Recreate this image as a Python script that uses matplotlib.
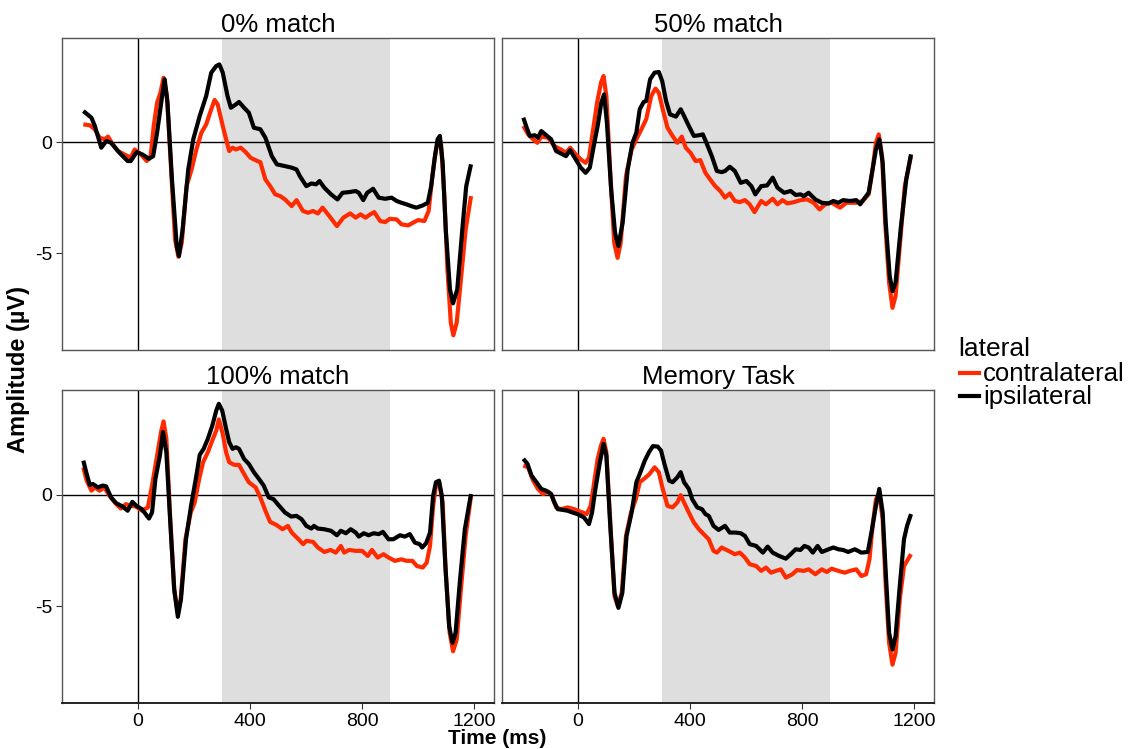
import matplotlib
matplotlib.use("Agg")
import matplotlib.pyplot as plt
from matplotlib.lines import Line2D

plt.rcParams['font.family'] = ['Liberation Sans', 'DejaVu Sans']

panel_titles = ["0% match", "50% match", "100% match", "Memory Task"]
series_names = ["contralateral", "ipsilateral"]
series_colors = ["#FF2A00", "#000000"]
shade_start, shade_end = 300, 900
x_ticks = [0, 400, 800, 1200]
y_ticks = [0, -5]

# ---- 0% match ----
t_p1_ipsi = [-194,-165,-153,-130,-112,-95,-65,-36,-25,-4,16,40,55,69,87,96,106,122,139,147,160,180,198,221,244,262,280,291,303,320,332,350,361,379,396,414,437,455,478,496,525,549,566,578,601,619,636,648,665,689,712,730,753,777,788,804,818,839,859,882,905,923,940,958,975,993,1016,1034,1046,1058,1069,1077,1087,1098,1113,1124,1139,1157,1171,1188]
v_p1_ipsi = [1.41,1.11,0.74,-0.24,0.06,-0.02,-0.47,-0.84,-0.84,-0.44,-0.54,-0.74,-0.62,0.44,2.09,2.84,1.79,-1.67,-4.67,-5.12,-3.92,-1.22,0.14,1.19,2.09,3.14,3.44,3.51,3.14,2.09,1.56,1.71,1.82,1.56,1.34,0.66,0.59,0.21,-0.62,-0.99,-1.07,-1.14,-1.22,-1.52,-1.97,-1.85,-1.89,-1.74,-2.04,-2.34,-2.57,-2.27,-2.24,-2.19,-2.27,-2.60,-2.27,-2.09,-2.49,-2.54,-2.49,-2.64,-2.72,-2.79,-2.87,-2.94,-2.84,-2.72,-1.97,-0.77,0.14,0.29,-0.92,-3.92,-6.62,-7.25,-6.62,-3.92,-1.97,-0.99]
t_p1_contra = [-194,-171,-153,-136,-118,-106,-89,-71,-48,-25,-11,11,32,46,57,69,81,92,104,119,133,145,157,174,192,209,227,244,262,274,285,303,315,326,338,350,367,385,402,426,437,455,472,490,508,525,549,566,589,607,625,642,659,683,710,733,757,777,794,812,829,843,864,882,899,923,940,964,981,999,1022,1037,1049,1061,1073,1081,1093,1104,1116,1125,1137,1151,1169,1188]
v_p1_contra = [0.81,0.77,0.59,0.21,0.14,0.26,-0.09,-0.39,-0.54,-0.69,-0.32,-0.54,-0.84,-0.62,0.74,1.79,2.24,2.91,2.09,-1.22,-4.37,-5.15,-4.52,-1.97,-1.22,-0.32,0.44,0.81,1.49,1.91,1.71,0.74,0.14,-0.39,-0.24,-0.32,-0.24,-0.44,-0.69,-0.84,-0.89,-1.67,-1.97,-2.34,-2.42,-2.57,-2.87,-2.60,-3.09,-3.17,-3.09,-3.20,-2.94,-3.32,-3.77,-3.39,-3.20,-3.39,-3.24,-3.39,-3.24,-3.14,-3.54,-3.59,-3.44,-3.47,-3.69,-3.74,-3.62,-3.50,-3.54,-3.09,-1.67,-0.47,0.21,-0.02,-2.42,-5.72,-8.12,-8.69,-8.12,-6.32,-3.92,-2.42]

# ---- 50% match ----
t_p2_ipsi = [-194,-182,-171,-153,-142,-130,-112,-95,-77,-54,-42,-27,-7,11,28,43,57,71,84,94,104,119,133,145,160,178,195,209,221,235,244,258,274,289,301,315,329,350,367,379,396,414,432,446,461,478,496,513,525,542,560,581,601,619,633,654,675,695,712,736,759,777,794,806,823,847,870,894,911,929,946,970,993,1007,1019,1037,1051,1063,1075,1087,1098,1112,1122,1133,1151,1171,1188]
v_p2_ipsi = [1.11,0.66,0.29,0.32,0.21,0.51,0.32,0.14,-0.39,-0.54,-0.62,-0.35,-0.77,-1.14,-1.37,-1.14,-0.17,0.74,1.79,2.16,0.89,-2.12,-4.07,-4.67,-3.62,-1.22,-0.02,0.44,1.49,1.82,1.86,2.84,3.14,3.17,2.76,1.86,1.26,1.16,1.49,1.19,0.74,0.29,0.32,0.36,-0.09,-0.62,-1.29,-1.34,-1.29,-1.10,-1.29,-1.82,-1.74,-1.97,-2.34,-1.97,-1.94,-1.59,-2.04,-2.27,-2.19,-2.37,-2.34,-2.42,-2.27,-2.57,-2.72,-2.75,-2.64,-2.72,-2.60,-2.64,-2.60,-2.79,-2.57,-2.27,-1.22,-0.32,0.14,-0.92,-3.62,-6.02,-6.70,-6.32,-3.92,-1.67,-0.54]
t_p2_contra = [-194,-177,-159,-144,-130,-106,-83,-60,-42,-27,-7,11,28,40,55,69,83,92,102,116,130,142,153,172,192,209,227,244,262,277,289,303,320,338,355,371,385,402,420,437,455,472,490,508,525,542,560,578,596,613,630,654,671,695,712,730,747,771,794,818,841,862,882,905,935,958,993,1016,1037,1051,1063,1073,1085,1096,1110,1122,1133,1149,1166,1188]
v_p2_contra = [0.74,0.36,0.14,-0.02,0.26,0.21,-0.17,-0.32,-0.47,-0.24,-0.54,-0.77,-0.92,-0.69,0.59,1.79,2.69,2.99,2.09,-1.37,-4.52,-5.20,-4.52,-1.52,-0.32,0.14,0.59,1.04,2.09,2.42,2.24,1.49,0.66,0.29,-0.02,0.26,-0.24,-0.47,-0.84,-0.80,-1.37,-1.67,-1.97,-2.19,-2.49,-2.30,-2.64,-2.69,-2.60,-2.79,-3.14,-2.64,-2.79,-2.54,-2.79,-2.60,-2.75,-2.69,-2.60,-2.57,-2.72,-3.02,-2.79,-2.72,-2.94,-2.72,-2.72,-2.64,-2.34,-1.22,-0.02,0.36,-0.62,-3.62,-6.32,-7.45,-6.92,-4.52,-1.97,-0.62]

# ---- 100% match ----
t_p3_ipsi = [-194,-182,-171,-160,-142,-125,-113,-95,-77,-54,-36,-19,-5,15,40,51,63,79,90,102,116,130,143,154,172,190,209,221,235,250,266,280,289,301,315,326,338,350,361,379,396,414,432,449,467,484,502,525,547,566,584,601,619,628,642,665,689,710,724,742,759,777,788,806,823,841,859,874,894,911,935,952,970,988,1005,1014,1028,1042,1053,1063,1074,1084,1096,1110,1122,1133,1149,1166,1188]
v_p3_ipsi = [1.53,0.93,0.44,0.48,0.33,0.41,0.38,-0.12,-0.38,-0.53,-0.72,-0.32,-0.50,-0.65,-1.07,-0.80,0.71,1.76,2.81,1.91,-1.25,-4.25,-5.48,-4.70,-2.00,-0.50,0.86,1.79,2.06,2.51,3.11,3.78,4.08,3.78,2.96,2.36,2.06,2.13,2.06,1.61,1.38,1.01,0.71,0.41,-0.12,-0.20,-0.47,-0.80,-0.98,-0.95,-1.10,-1.40,-1.52,-1.40,-1.52,-1.55,-1.62,-1.82,-1.62,-1.73,-1.55,-1.70,-1.88,-1.73,-1.82,-1.73,-1.77,-1.67,-2.00,-2.00,-1.82,-1.88,-1.77,-2.15,-2.22,-2.37,-2.18,-1.70,-0.05,0.56,0.63,-0.05,-3.05,-5.90,-6.65,-6.20,-3.80,-1.55,0.03]
t_p3_contra = [-194,-182,-165,-153,-136,-119,-101,-77,-60,-42,-25,-7,15,36,51,69,83,92,102,116,130,142,153,170,189,203,219,233,250,268,280,289,303,315,326,344,361,379,396,420,437,455,472,496,516,535,549,573,590,601,625,642,665,687,706,724,736,753,777,800,820,835,855,876,894,917,940,958,979,995,1016,1030,1042,1053,1063,1074,1087,1098,1112,1124,1137,1151,1169,1188]
v_p3_contra = [1.23,0.63,0.18,0.33,0.18,0.33,-0.05,-0.42,-0.62,-0.42,-0.50,-0.53,-0.72,-0.57,0.41,1.76,2.81,3.29,2.51,-1.10,-4.25,-5.30,-4.70,-2.00,-0.80,-0.35,0.71,1.46,1.91,2.51,2.88,3.38,2.73,1.91,1.46,1.34,1.34,0.93,0.56,0.33,-0.12,-0.72,-1.22,-1.37,-1.55,-1.40,-1.70,-2.00,-2.22,-2.07,-2.12,-2.37,-2.57,-2.48,-2.60,-2.30,-2.60,-2.48,-2.52,-2.52,-2.75,-2.48,-2.82,-2.67,-2.82,-2.97,-2.90,-2.97,-2.97,-3.20,-3.27,-3.05,-2.30,-0.50,0.41,0.56,-0.35,-3.50,-6.20,-7.03,-6.50,-4.40,-1.85,-0.05]

# ---- Memory Task ----
t_p4_ipsi = [-194,-179,-165,-147,-130,-113,-95,-83,-71,-54,-36,-19,-1,22,40,51,63,79,92,102,116,131,145,159,174,192,209,221,239,254,268,285,297,309,326,338,355,367,379,396,408,426,443,455,467,484,502,525,542,563,581,596,613,636,660,677,695,718,742,759,777,794,808,823,838,855,870,888,911,929,946,964,988,1011,1034,1049,1063,1075,1087,1098,1110,1122,1133,1148,1163,1174,1188]
v_p4_ipsi = [1.61,1.38,0.86,0.56,0.26,0.18,0.03,-0.35,-0.65,-0.68,-0.72,-0.80,-0.87,-1.02,-1.32,-0.80,0.26,1.46,2.28,1.76,-1.40,-4.40,-5.08,-4.40,-1.85,-0.80,0.56,0.93,1.53,1.91,2.18,2.16,1.98,1.38,0.63,0.56,0.78,1.01,0.56,0.26,-0.20,-0.57,-0.65,-0.87,-0.95,-1.40,-1.58,-1.40,-1.70,-1.70,-1.73,-1.85,-2.22,-2.30,-2.60,-2.33,-2.60,-2.75,-2.87,-2.67,-2.45,-2.48,-2.30,-2.37,-2.60,-2.30,-2.57,-2.48,-2.37,-2.45,-2.48,-2.57,-2.45,-2.60,-2.57,-1.55,-0.50,0.26,-0.80,-3.50,-6.20,-6.95,-6.35,-4.10,-2.00,-1.40,-0.87]
t_p4_contra = [-194,-177,-159,-142,-124,-106,-95,-77,-60,-36,-13,11,32,46,57,71,83,92,102,116,131,143,157,172,190,207,221,239,256,274,289,303,320,338,355,367,379,396,414,432,449,467,484,496,513,537,560,578,596,613,636,654,671,689,706,724,742,765,782,806,823,847,870,888,905,929,952,970,993,1011,1028,1040,1051,1063,1075,1087,1098,1110,1122,1133,1148,1163,1174,1188]
v_p4_contra = [1.31,1.23,0.63,0.26,0.03,0.14,0.03,-0.57,-0.65,-0.57,-0.65,-0.77,-0.87,-0.50,0.41,1.61,2.21,2.51,1.91,-1.25,-4.55,-5.00,-4.40,-1.85,-0.80,-0.20,0.56,0.74,0.93,1.23,1.01,0.26,-0.50,-0.57,-0.35,-0.02,-0.35,-0.80,-1.25,-1.55,-1.77,-2.00,-2.52,-2.60,-2.37,-2.52,-2.67,-2.60,-2.82,-3.12,-3.20,-3.42,-3.27,-3.50,-3.42,-3.35,-3.72,-3.57,-3.38,-3.42,-3.35,-3.57,-3.35,-3.47,-3.32,-3.42,-3.50,-3.42,-3.35,-3.65,-3.57,-2.90,-1.40,-0.20,0.03,-1.10,-4.10,-6.65,-7.63,-7.10,-4.70,-3.20,-2.97,-2.67]

panel_data = [
    [(t_p1_contra, v_p1_contra), (t_p1_ipsi, v_p1_ipsi)],
    [(t_p2_contra, v_p2_contra), (t_p2_ipsi, v_p2_ipsi)],
    [(t_p3_contra, v_p3_contra), (t_p3_ipsi, v_p3_ipsi)],
    [(t_p4_contra, v_p4_contra), (t_p4_ipsi, v_p4_ipsi)],
]

W, H = 1134, 749
fig = plt.figure(figsize=(W / 100, H / 100), dpi=100)

col_x = [62, 502]
row_y = [(38, 350), (390, 703)]
pw = 432

for i in range(4):
    r, c = divmod(i, 2)
    top, bot = row_y[r]
    ax = fig.add_axes([col_x[c] / W, 1 - bot / H, pw / W, (bot - top) / H])
    ax.set_xlim(-270, 1270)
    ax.set_ylim(-9.35, 4.7)
    ax.axvspan(shade_start, shade_end, color="#DEDEDE", lw=0, zorder=0)
    ax.axhline(0, color="black", lw=1.0, zorder=1)
    ax.axvline(0, color="black", lw=1.0, zorder=1)
    for (t, v), col in zip(panel_data[i], series_colors):
        ax.plot(t, v, color=col, lw=3.0, solid_joinstyle="round",
                solid_capstyle="butt", zorder=3)
    for s in ax.spines.values():
        s.set_color("#555555")
        s.set_linewidth(1.0)
    ax.set_title(panel_titles[i], fontsize=18.5, pad=4)
    ax.set_xticks(x_ticks)
    ax.set_yticks(y_ticks)
    ax.tick_params(direction="out", length=4, width=0.8, colors="#333333",
                   labelsize=14, labelcolor="black", pad=3)
    if c == 1:
        ax.tick_params(axis="y", left=False, labelleft=False)
    else:
        ax.set_yticklabels(["0", "-5"])
    if r == 0:
        ax.tick_params(axis="x", bottom=False, labelbottom=False)
    else:
        ax.spines["bottom"].set_color("#222222")
        ax.spines["bottom"].set_linewidth(1.4)

fig.text(19 / W, 1 - 370 / H, "Amplitude (\u00b5V)", rotation=90, ha="center",
         va="center", fontsize=17, fontweight="bold")
fig.text(497 / W, 1 - 739 / H, "Time (ms)", ha="center", va="center",
         fontsize=15, fontweight="bold")

# legend
fig.text(958 / W, 1 - 356 / H, "lateral", ha="left", va="baseline", fontsize=19)
legend_rows_y = [373, 396]
for name, col, yy in zip(series_names, series_colors, legend_rows_y):
    fig.add_artist(Line2D([960 / W, 979 / W], [1 - yy / H, 1 - yy / H],
                          color=col, lw=3, transform=fig.transFigure))
    fig.text(983 / W, 1 - (yy + 8) / H, name, ha="left", va="baseline",
             fontsize=18.5)

fig.savefig("out.png", dpi=100)
